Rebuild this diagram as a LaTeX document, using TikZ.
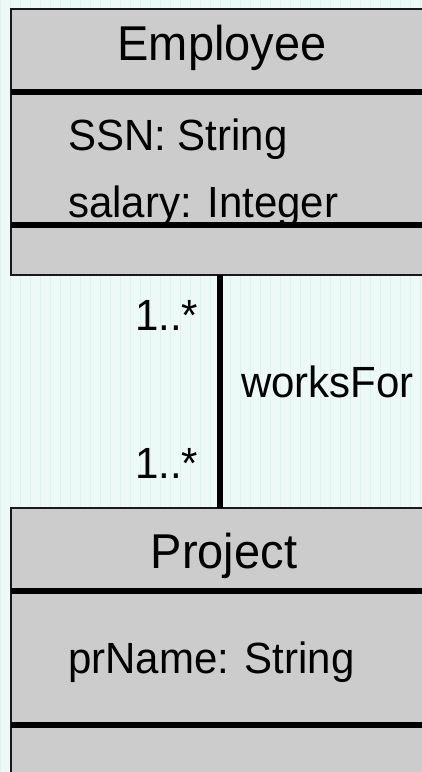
\documentclass[tikz,border=0pt]{standalone}
\usepackage{fontspec}
\setmainfont{Liberation Sans}
\definecolor{bg}{RGB}{236,249,246}
\definecolor{gridc}{RGB}{221,243,238}
\definecolor{boxfill}{RGB}{204,204,204}
\definecolor{ink}{RGB}{25,25,25}
\begin{document}
\begin{tikzpicture}[x=1pt,y=-1pt,
  classbox/.style={draw=ink, line width=2pt, fill=boxfill, rectangle, minimum width=418pt, inner sep=0pt, outer sep=0pt},
  sepline/.style={line width=5.5pt, draw=black},
  title/.style={font=\fontsize{47}{56}\selectfont, anchor=base, inner sep=0pt, yscale=1.04},
  attr/.style={font=\fontsize{42}{50}\selectfont, anchor=base west, inner sep=0pt, yscale=1.04},
  assoc/.style={line width=6pt, draw=black}]
\useasboundingbox (0,0) rectangle (422,772);
\clip (0,0) rectangle (422,772);
\fill[bg] (0,0) rectangle (422,772);
\draw[gridc, line width=0.5pt, step=10] (0,0) grid (422,772);
% classes
\node[classbox, minimum height=266pt] (emp) at (219.5,142) {};
\node[classbox, minimum height=342pt] (proj) at (219.5,679) {};
\draw[sepline] (11,92) -- (429,92);
\draw[sepline] (11,225) -- (429,225);
\draw[sepline] (11,591) -- (429,591);
\draw[sepline] (11,725) -- (429,725);
% texts
\node[title] (empname) at (222,60) {Employee};
\node[attr] (ssn) at (68,150) {SSN: String};
\node[attr] (sal) at (68,217) {salary: Integer};
\node[title] (projname) at (224,568) {Project};
\node[attr] (prn) at (68,673) {prName: String};
% association
\draw[assoc] (emp.south) -- (proj.north);
\node[attr] (m1) at (135,330) {1..*};
\node[attr] (m2) at (135,478) {1..*};
\node[attr] (wf) at (241,397) {worksFor};
\end{tikzpicture}
\end{document}
